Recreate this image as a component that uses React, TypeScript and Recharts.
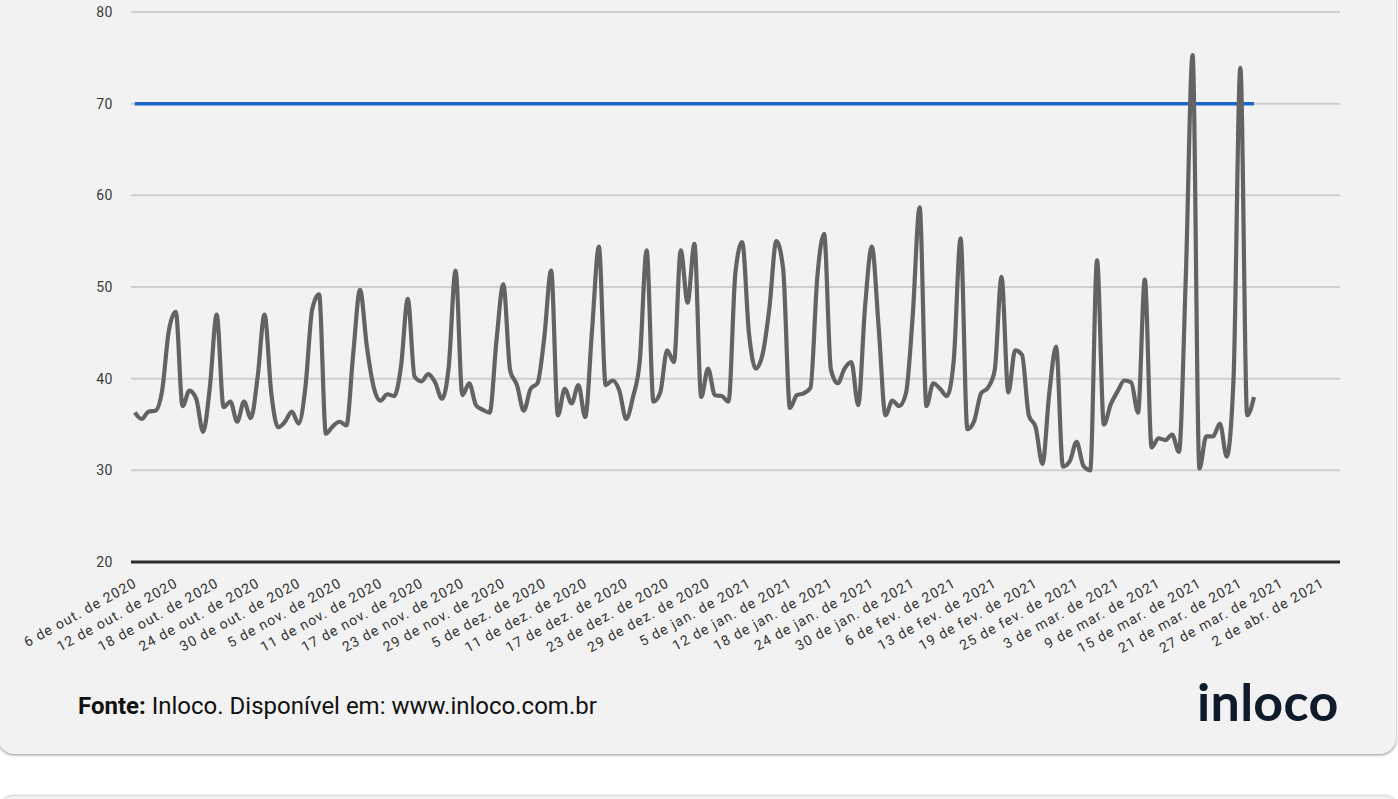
import React from "react";
import { LineChart, Line, XAxis, YAxis, CartesianGrid } from "recharts";

// one point per category (days, a few are missing in the source)
const VALUES = [
  36.3, 35.6, 36.4, 36.5, 38.7, 45.3, 47.3, 37, 38.7, 37.8,
  34.2, 39.1, 47, 36.9, 37.5, 35.3, 37.5, 35.7, 40.2, 47,
  38.4, 34.7, 35.3, 36.4, 35.1, 39.1, 47.6, 49.2, 34, 34.8,
  35.3, 34.9, 42.7, 49.7, 43.5, 39.1, 37.6, 38.3, 38.1, 41.3,
  48.7, 40.2, 39.7, 40.5, 39.6, 37.8, 41.3, 51.8, 38.2, 39.5,
  37.1, 36.6, 36.3, 44.2, 50.3, 40.9, 39.3, 36.5, 38.9, 39.5,
  44.5, 51.8, 36, 38.9, 37.3, 39.3, 35.8, 45.3, 54.4, 39.3,
  39.8, 38.7, 35.6, 38, 42, 54, 37.5, 38.5, 43.1, 41.8,
  54, 48.3, 54.7, 38, 41.1, 38.2, 38.1, 37.5, 51.5, 54.9,
  44.9, 41.1, 42.7, 47.8, 55, 52, 36.8, 38.2, 38.4, 39,
  51, 55.8, 41, 39.5, 41.1, 41.8, 37.1, 47.8, 54.4, 45.6,
  36, 37.6, 37, 38.4, 47, 58.7, 37, 39.5, 38.9, 38.1,
  42, 55.3, 34.5, 35.4, 38.4, 39, 40.9, 51.1, 38.5, 43.1,
  42.6, 36, 34.7, 30.7, 38.4, 43.5, 30.4, 31, 33.1, 30.5,
  30, 52.9, 35, 37.2, 38.6, 39.8, 39.6, 36.3, 50.8, 32.5,
  33.5, 33.3, 33.9, 32, 51, 75.3, 30.2, 33.7, 33.7, 35.1,
  31.5, 40, 73.9, 36, 38,
];

const META = 70;

// a label every 6 categories
const TICK_LABELS = [
  "6 de out. de 2020", "12 de out. de 2020", "18 de out. de 2020", "24 de out. de 2020",
  "30 de out. de 2020", "5 de nov. de 2020", "11 de nov. de 2020", "17 de nov. de 2020",
  "23 de nov. de 2020", "29 de nov. de 2020", "5 de dez. de 2020", "11 de dez. de 2020",
  "17 de dez. de 2020", "23 de dez. de 2020", "29 de dez. de 2020", "5 de jan. de 2021",
  "12 de jan. de 2021", "18 de jan. de 2021", "24 de jan. de 2021", "30 de jan. de 2021",
  "6 de fev. de 2021", "13 de fev. de 2021", "19 de fev. de 2021", "25 de fev. de 2021",
  "3 de mar. de 2021", "9 de mar. de 2021", "15 de mar. de 2021", "21 de mar. de 2021",
  "27 de mar. de 2021", "2 de abr. de 2021",
];

const Y_TICKS = [20, 30, 40, 50, 60, 70, 80];

const data = VALUES.map((v, i) => ({ i, v, meta: META }));
const xTicks = TICK_LABELS.map((_, k) => k * 6);

const XTick = (props: any) => {
  const { x, y, payload } = props;
  const label = TICK_LABELS[Math.round(payload.value / 6)] ?? "";
  return (
    <g transform={`translate(${x + 3},${y + 22})`}>
      <text textAnchor="end" transform="rotate(-29)" fontSize={14} letterSpacing={1.1} fill="#333" fontFamily="Roboto">
        {label}
      </text>
    </g>
  );
};

const YTick = (props: any) => {
  const { y, payload } = props;
  return (
    <text x={113} y={y} dy={5} textAnchor="end" fontSize={14} letterSpacing={0.5} fill="#3a3a3a" fontFamily="Roboto">
      {payload.value}
    </text>
  );
};

export default function App() {
  return (
    <div style={{ position: "fixed", left: 0, top: 0, width: 1398, height: 799, background: "#fff", overflow: "hidden" }}>
      <div
        style={{
          position: "absolute", left: -2, top: -30, width: 1398, height: 784,
          background: "#f2f2f2", borderRadius: 16,
          boxShadow: "0 1px 3px rgba(0,0,0,0.45)",
        }}
      />
      <div style={{ position: "absolute", left: -2, top: 796, width: 1402, height: 40, background: "#f2f2f2", borderRadius: 16, boxShadow: "0 -1px 2px rgba(0,0,0,0.2)" }} />

      <div style={{ position: "absolute", left: 0, top: 0 }}>
        <LineChart width={1398} height={680} data={data} margin={{ top: 12, right: 58, left: 0, bottom: 0 }}>
          <CartesianGrid horizontal vertical={false} stroke="#cfcfcf" strokeWidth={2} />
          <XAxis
            dataKey="i"
            type="number"
            domain={[-0.56, 176.6]}
            allowDataOverflow
            ticks={xTicks}
            interval={0}
            tick={<XTick />}
            tickLine={false}
            tickSize={0}
            height={118}
            axisLine={{ stroke: "#2b2b2b", strokeWidth: 3 }}
          />
          <YAxis
            domain={[20, 80]}
            ticks={Y_TICKS}
            interval={0}
            width={131}
            axisLine={false}
            tickLine={false}
            tick={<YTick />}
          />
          <Line dataKey="meta" type="linear" stroke="#1c66c9" strokeWidth={3.5} dot={false} isAnimationActive={false} />
          <Line dataKey="v" type="monotone" stroke="#636363" strokeWidth={4.2} dot={false} isAnimationActive={false} />
        </LineChart>
      </div>

      <div style={{ position: "absolute", left: 78, top: 692, fontFamily: "Roboto", fontSize: 24, color: "#111", whiteSpace: "nowrap" }}>
        <b>Fonte:</b> Inloco. Disponível em: www.inloco.com.br
      </div>
      <div style={{ position: "absolute", left: 1197, top: 670, fontFamily: "Lato", fontWeight: 700, fontSize: 52, color: "#0f1b2b", letterSpacing: 0.3, whiteSpace: "nowrap" }}>
        inloco
      </div>
    </div>
  );
}
